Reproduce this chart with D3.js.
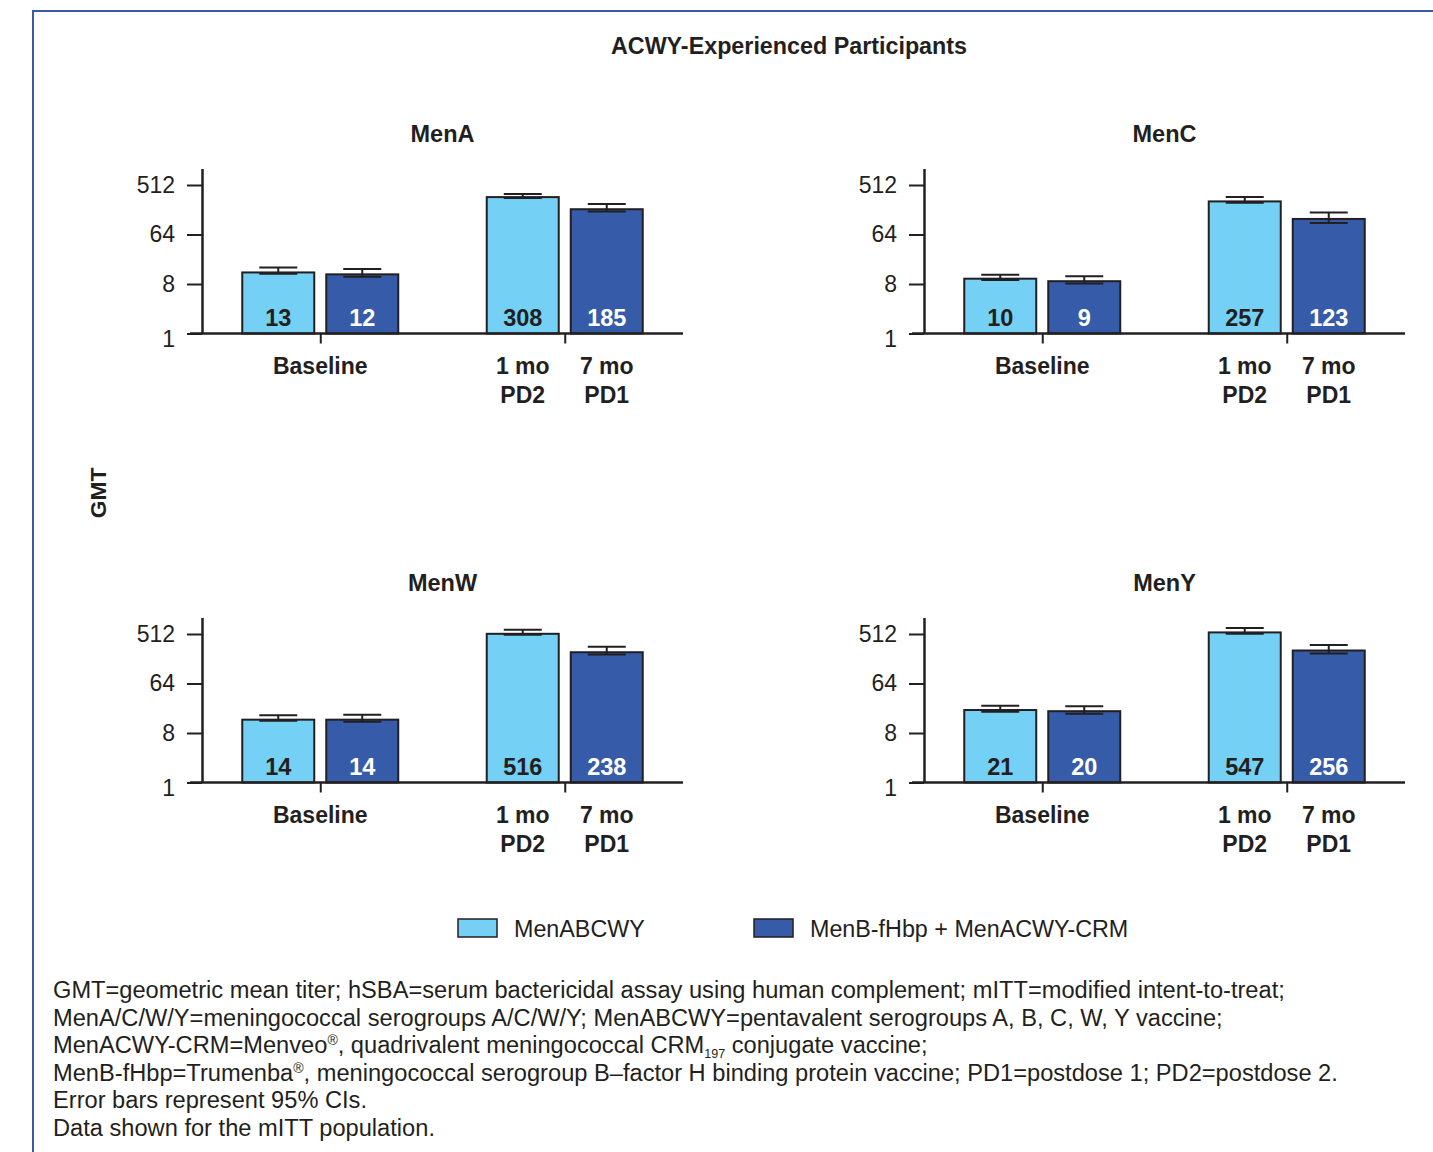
<!DOCTYPE html>
<html>
<head>
<meta charset="utf-8">
<script src="https://cdn.jsdelivr.net/npm/d3@7"></script>
<style>
  html, body { margin: 0; padding: 0; background: #fff; }
  svg { display: block; font-family: "Liberation Sans", Arial, Helvetica, sans-serif; }
</style>
</head>
<body>
<script>
// ---- data -------------------------------------------------------------
const serogroups = ["MenA", "MenC", "MenW", "MenY"];
const series = ["MenABCWY", "MenB-fHbp + MenACWY-CRM"];
const groups = ["Baseline", "Post"];
// second group: each bar has its own time-point label
const postLabels = [["1 mo", "PD2"], ["7 mo", "PD1"]];
const yTicks = [1, 8, 64, 512];

// GMT per serogroup: [baseline, post]
const gmtABCWY = [[13, 308], [10, 257], [14, 516], [21, 547]];
const gmtCombo = [[12, 185], [9, 123], [14, 238], [20, 256]];
// 95% CI bounds
const ciLowABCWY  = [[12.3, 295], [9.5, 243], [13.4, 495], [19.6, 518]];
const ciHighABCWY = [[16.0, 349], [11.8, 308], [16.8, 610], [25.2, 656]];
const ciLowCombo  = [[10.9, 168], [8.2, 104], [12.9, 216], [18.0, 226]];
const ciHighCombo = [[15.0, 231], [11.1, 162], [17.2, 301], [24.6, 324]];

const footnotes = [
  [{t: "GMT=geometric mean titer; hSBA=serum bactericidal assay using human complement; mITT=modified intent-to-treat;"}],
  [{t: "MenA/C/W/Y=meningococcal serogroups A/C/W/Y; MenABCWY=pentavalent serogroups A, B, C, W, Y vaccine;"}],
  [{t: "MenACWY-CRM=Menveo"}, {t: "®", sup: true}, {t: ", quadrivalent meningococcal CRM"}, {t: "197", sub: true}, {t: " conjugate vaccine;"}],
  [{t: "MenB-fHbp=Trumenba"}, {t: "®", sup: true}, {t: ", meningococcal serogroup B\u2013factor H binding protein vaccine; PD1=postdose 1; PD2=postdose 2."}],
  [{t: "Error bars represent 95% CIs."}],
  [{t: "Data shown for the mITT population."}]
];

// ---- layout -----------------------------------------------------------
const W = 1433, H = 1152;
const ink = "#231f20";
const colors = ["#74d1f5", "#365ca9"];
const labelColors = [ink, "#ffffff"];
const frameColor = "#3a5ba8";

const plotW = 481;          // x extent of each panel (from y axis)
const plotH = 165;          // y axis height (1 .. 1024)
const panelX = [202, 924];
const panelY = [333.5, 782.5];  // y of the x axis (value 1)

const fsTick = 23, fsCat = 23, fsVal = 23.5, fsTitle = 23.5;

const svg = d3.select("body").append("svg")
  .attr("width", W).attr("height", H);

// frame
svg.append("path")
  .attr("d", `M33,1152 V11 H1433`)
  .attr("fill", "none")
  .attr("stroke", frameColor)
  .attr("stroke-width", 2);

svg.append("text")
  .attr("x", 789).attr("y", 54)
  .attr("text-anchor", "middle")
  .attr("font-size", 23.3).attr("font-weight", "bold")
  .attr("fill", ink)
  .text("ACWY-Experienced Participants");

svg.append("text")
  .attr("transform", "translate(106,493) rotate(-90)")
  .attr("text-anchor", "middle")
  .attr("font-size", 22.8).attr("font-weight", "bold")
  .attr("fill", ink)
  .text("GMT");

// shared scales
const y = d3.scaleLog().base(2).domain([1, 1024]).range([plotH, 0]);
const xGroup = d3.scalePoint().domain(groups).range([0, plotW]).padding(0.4837);
const xSeries = d3.scaleBand().domain(series).range([-78, 78]).paddingInner(12 / 84);

const gmt = [gmtABCWY, gmtCombo];
const ciLo = [ciLowABCWY, ciLowCombo];
const ciHi = [ciHighABCWY, ciHighCombo];

serogroups.forEach((name, si) => {
  const px = panelX[si % 2];
  const py = panelY[Math.floor(si / 2)] - plotH;
  const g = svg.append("g").attr("transform", `translate(${px},${py})`);

  g.append("text")
    .attr("x", plotW / 2).attr("y", -26.5)
    .attr("text-anchor", "middle")
    .attr("font-size", fsTitle).attr("font-weight", "bold")
    .attr("fill", ink)
    .text(name);

  // bars
  const rows = [];
  groups.forEach((grp, gi) => {
    series.forEach((s, k) => {
      rows.push({grp, gi, s, k,
        v: gmt[k][si][gi], lo: ciLo[k][si][gi], hi: ciHi[k][si][gi]});
    });
  });

  const bw = xSeries.bandwidth();
  const bar = g.selectAll("g.bar").data(rows).enter().append("g")
    .attr("class", "bar")
    .attr("transform", d => `translate(${xGroup(d.grp) + xSeries(d.s)},0)`);

  bar.append("rect")
    .attr("x", 0).attr("width", bw)
    .attr("y", d => y(d.v))
    .attr("height", d => plotH - y(d.v))
    .attr("fill", d => colors[d.k])
    .attr("stroke", ink).attr("stroke-width", 2);

  // error bars
  const capW = 38;
  bar.append("path")
    .attr("d", d => {
      const c = bw / 2, yl = y(d.lo), yh = y(d.hi);
      return `M${c},${yl}V${yh}M${c - capW / 2},${yh}H${c + capW / 2}M${c - capW / 2},${yl}H${c + capW / 2}`;
    })
    .attr("fill", "none")
    .attr("stroke", ink).attr("stroke-width", 2);

  bar.append("text")
    .attr("x", bw / 2).attr("y", plotH - 7.5)
    .attr("text-anchor", "middle")
    .attr("font-size", fsVal).attr("font-weight", "bold")
    .attr("fill", d => labelColors[d.k])
    .text(d => d.v);

  // y axis
  const ya = g.append("g").call(
    d3.axisLeft(y).tickValues(yTicks).tickFormat(d3.format("d"))
      .tickSize(15).tickSizeOuter(0).tickPadding(12));
  ya.select(".domain").attr("stroke", ink).attr("stroke-width", 2.5);
  ya.selectAll(".tick line").attr("stroke", ink).attr("stroke-width", 2);
  ya.selectAll(".tick text")
    .attr("font-size", fsTick).attr("font-family", null).attr("fill", ink);
  ya.selectAll(".tick").filter(d => d === 1).select("text").attr("dy", "0.55em");

  // x axis with group ticks
  const xa = g.append("g").attr("transform", `translate(0,${plotH})`).call(
    d3.axisBottom(xGroup).tickSize(10).tickSizeOuter(0).tickFormat(""));
  xa.select(".domain").remove();
  xa.selectAll(".tick line").attr("stroke", ink).attr("stroke-width", 2);
  g.append("line")
    .attr("x1", -12).attr("x2", plotW)
    .attr("y1", plotH).attr("y2", plotH)
    .attr("stroke", ink).attr("stroke-width", 2.5);

  // category labels
  g.append("text")
    .attr("x", xGroup("Baseline")).attr("y", plotH + 40.5)
    .attr("text-anchor", "middle")
    .attr("font-size", fsCat).attr("font-weight", "bold").attr("fill", ink)
    .text("Baseline");
  series.forEach((s, k) => {
    const cx = xGroup("Post") + xSeries(s) + bw / 2;
    postLabels[k].forEach((line, li) => {
      g.append("text")
        .attr("x", cx).attr("y", plotH + 40.5 + li * 29)
        .attr("text-anchor", "middle")
        .attr("font-size", fsCat).attr("font-weight", "bold").attr("fill", ink)
        .text(line);
    });
  });
});

// legend
const legX = [458, 754];
const leg = svg.selectAll("g.legend").data(series).enter().append("g")
  .attr("class", "legend")
  .attr("transform", (d, i) => `translate(${legX[i]},919)`);
leg.append("rect")
  .attr("width", 39).attr("height", 18)
  .attr("fill", (d, i) => colors[i])
  .attr("stroke", ink).attr("stroke-width", 1.5);
leg.append("text")
  .attr("x", 56).attr("y", 17.5)
  .attr("font-size", 23.3).attr("fill", ink)
  .text(d => d);

// footnotes
const fnSize = 23.65;
const fn = svg.append("text")
  .attr("x", 53).attr("y", 998)
  .attr("font-size", fnSize).attr("fill", ink);
footnotes.forEach((parts, li) => {
  parts.forEach((p, pi) => {
    const ts = fn.append("tspan").text(p.t);
    if (pi === 0) ts.attr("x", 53).attr("y", 998 + li * 27.6);
    if (p.sup) ts.attr("font-size", 14).attr("dy", -8);
    else if (p.sub) ts.attr("font-size", 12.5).attr("dy", 5);
    else if (pi > 0 && (parts[pi - 1].sup)) ts.attr("dy", 8);
    else if (pi > 0 && (parts[pi - 1].sub)) ts.attr("dy", -5);
  });
});
</script>
</body>
</html>
